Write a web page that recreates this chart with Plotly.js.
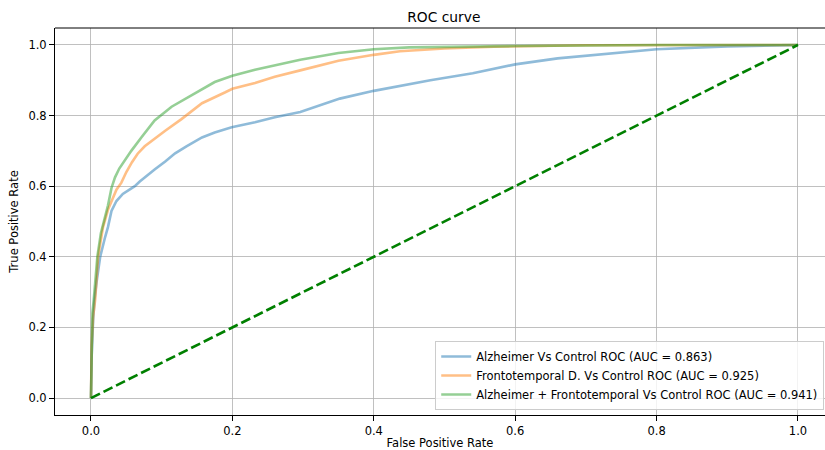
<!DOCTYPE html>
<html>
<head>
<meta charset="utf-8">
<script src="https://cdn.plot.ly/plotly-3.0.1.min.js"></script>
<style>
  html, body { margin: 0; padding: 0; background: #ffffff; }
  #chart { width: 825px; height: 450px; }
</style>
</head>
<body>
<div id="chart"></div>
<script>
// ROC points (false positive rate, true positive rate) for each classifier
const alzFpr = [0, 0.001, 0.003, 0.005, 0.008, 0.013, 0.020, 0.024, 0.029, 0.036, 0.045, 0.055, 0.062, 0.069, 0.076, 0.090, 0.105, 0.119, 0.135, 0.157, 0.175, 0.199, 0.232, 0.260, 0.296, 0.325, 0.352, 0.400, 0.437, 0.480, 0.540, 0.600, 0.660, 0.720, 0.800, 0.900, 1.0];
const alzTpr = [0, 0.120, 0.220, 0.280, 0.330, 0.400, 0.456, 0.484, 0.530, 0.558, 0.578, 0.590, 0.600, 0.613, 0.625, 0.647, 0.670, 0.693, 0.713, 0.738, 0.752, 0.767, 0.781, 0.795, 0.810, 0.830, 0.848, 0.870, 0.884, 0.900, 0.920, 0.945, 0.962, 0.974, 0.988, 0.996, 1.0];

const ftdFpr = [0, 0.001, 0.003, 0.006, 0.010, 0.017, 0.024, 0.036, 0.043, 0.050, 0.058, 0.066, 0.076, 0.090, 0.105, 0.128, 0.157, 0.190, 0.200, 0.232, 0.260, 0.296, 0.350, 0.400, 0.437, 0.500, 0.570, 0.700, 1.0];
const ftdTpr = [0, 0.150, 0.230, 0.280, 0.400, 0.484, 0.533, 0.590, 0.610, 0.640, 0.668, 0.692, 0.713, 0.735, 0.757, 0.790, 0.835, 0.866, 0.876, 0.892, 0.910, 0.928, 0.955, 0.972, 0.982, 0.990, 0.995, 0.999, 1.0];

const bothFpr = [0, 0.001, 0.002, 0.004, 0.009, 0.014, 0.020, 0.024, 0.029, 0.034, 0.040, 0.048, 0.057, 0.072, 0.090, 0.114, 0.147, 0.155, 0.175, 0.200, 0.213, 0.232, 0.296, 0.350, 0.400, 0.450, 0.600, 0.800, 1.0];
const bothTpr = [0, 0.170, 0.240, 0.280, 0.400, 0.467, 0.514, 0.545, 0.595, 0.625, 0.650, 0.675, 0.700, 0.740, 0.786, 0.825, 0.863, 0.873, 0.895, 0.913, 0.920, 0.930, 0.958, 0.977, 0.988, 0.993, 0.997, 1.0, 1.0];

const chanceX = [0, 1];
const chanceY = [0, 1];

const seriesNames = [
  "Alzheimer Vs Control ROC (AUC = 0.863)",
  "Frontotemporal D. Vs Control ROC (AUC = 0.925)",
  "Alzheimer + Frontotemporal Vs Control ROC (AUC = 0.941)"
];

const tickVals = [0, 0.2, 0.4, 0.6, 0.8, 1.0];
const tickText = ["0.0", "0.2", "0.4", "0.6", "0.8", "1.0"];

const FONT = "DejaVu Sans, sans-serif";

function rocTrace(x, y, name, color) {
  return {
    x: x, y: y, name: name, type: "scatter", mode: "lines",
    line: { color: color, width: 2.6 }, opacity: 0.5
  };
}

const traces = [
  rocTrace(alzFpr, alzTpr, seriesNames[0], "#1f77b4"),
  rocTrace(ftdFpr, ftdTpr, seriesNames[1], "#ff7f0e"),
  rocTrace(bothFpr, bothTpr, seriesNames[2], "#2ca02c"),
  {
    x: chanceX, y: chanceY, type: "scatter", mode: "lines", showlegend: false,
    line: { color: "#008000", width: 2.6, dash: "10px,4px" }
  }
];

const axisCommon = {
  tickvals: tickVals, ticktext: tickText,
  showgrid: true, gridcolor: "#b0b0b0", gridwidth: 0.8,
  zeroline: false, showline: true, linecolor: "#000000", linewidth: 1,
  ticks: "outside", ticklen: 5, tickwidth: 1, tickcolor: "#000000",
  tickfont: { family: FONT, size: 11.5, color: "#000000" }
};

const layout = {
  width: 825, height: 450,
  margin: { l: 55, r: 0, t: 28, b: 35 },
  paper_bgcolor: "#ffffff", plot_bgcolor: "#ffffff",
  font: { family: FONT, size: 11.5, color: "#000000" },
  title: {
    text: "ROC curve", font: { family: FONT, size: 13.8, color: "#000000" },
    xref: "paper", x: 0.505, xanchor: "center",
    yref: "container", y: 0.962, yanchor: "middle"
  },
  xaxis: Object.assign({}, axisCommon, {
    range: [-0.0509, 1.0382],
    title: { text: "False Positive Rate", font: { family: FONT, size: 11.5 }, standoff: 2 }
  }),
  yaxis: Object.assign({}, axisCommon, {
    range: [-0.048, 1.048],
    title: { text: "True Positive Rate", font: { family: FONT, size: 11.5 }, standoff: 7 }
  }),
  shapes: [
    { type: "line", xref: "paper", yref: "paper", x0: 0, x1: 1, y0: 1, y1: 1,
      line: { color: "#000000", width: 1 } }
  ],
  legend: {
    x: 0.999, xanchor: "right", y: 0.013, yanchor: "bottom",
    bgcolor: "rgba(255,255,255,0.8)", bordercolor: "#cccccc", borderwidth: 1,
    font: { family: FONT, size: 11.5, color: "#000000" },
    itemwidth: 30, tracegroupgap: 0
  },
  showlegend: true
};

Plotly.newPlot("chart", traces, layout, { displayModeBar: false, staticPlot: true });
</script>
</body>
</html>
